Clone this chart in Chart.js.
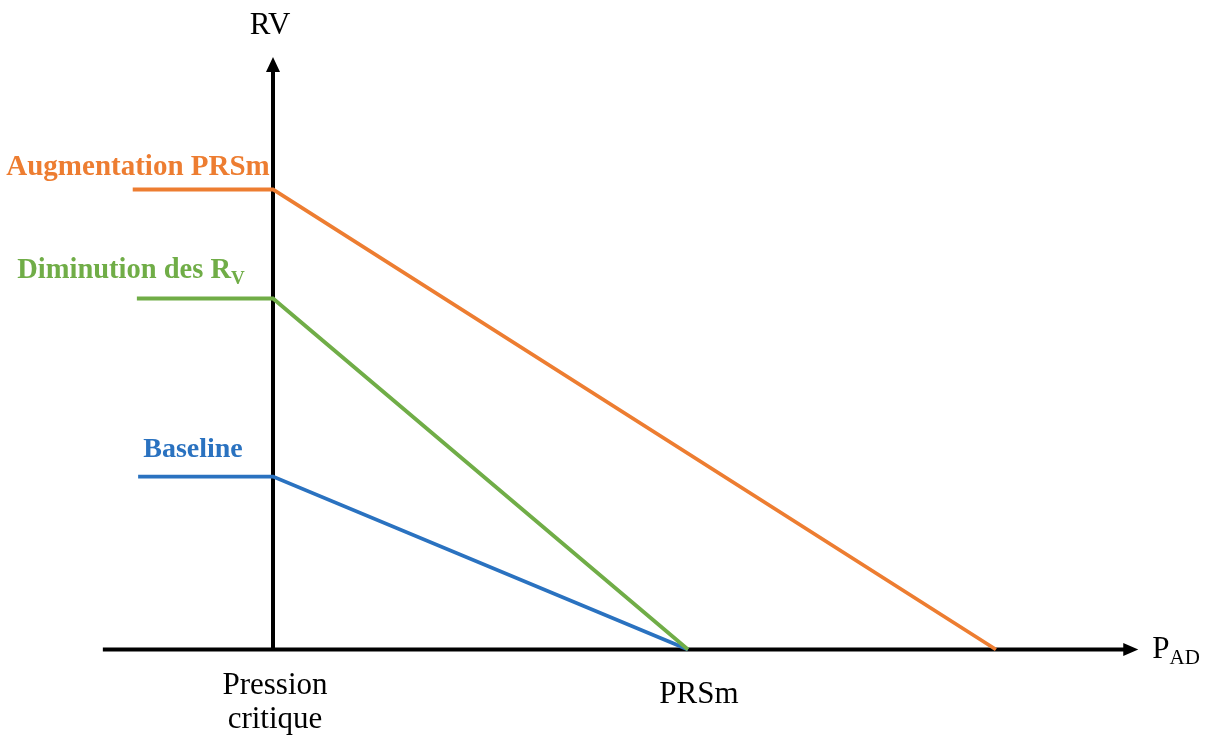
<!DOCTYPE html>
<html>
<head>
<meta charset="utf-8">
<script src="https://cdn.jsdelivr.net/npm/chart.js@4"></script>
<style>
  html, body { margin: 0; padding: 0; background: #fff; }
  #wrap { width: 1207px; height: 736px; }
</style>
</head>
<body>
<div id="wrap"><canvas id="graph1" width="1207" height="736"></canvas></div>
<script>
// courbes de retour veineux (unites arbitraires)
var seriesNames = ['Augmentation PRSm', 'Diminution des R', 'Baseline'];
var seriesColors = ['#ED7D31', '#70AD47', '#2A72C0'];
var plateauStart = [-3.38, -3.28, -3.25];   // debut du plateau a gauche
var plateauLevel = [10.0, 7.63, 3.76];      // RV max (plateau)
var pressionCritique = [0, 0, 0];           // fin du plateau
var prsmValue = [17.42, 10.0, 10.0];        // RV = 0 quand P_AD = PRSm

// axes
var xAxisFrom = -4.1, xAxisTo = 20.85;
var yAxisFrom = 0, yAxisTo = 12.88;

var serif = '"Liberation Serif", "Times New Roman", serif';

var datasets = [];
seriesNames.forEach(function (name, i) {
    datasets.push({
        label: name,
        data: [
            { x: plateauStart[i], y: plateauLevel[i] },
            { x: pressionCritique[i], y: plateauLevel[i] },
            { x: prsmValue[i], y: 0 }
        ],
        borderColor: seriesColors[i],
        backgroundColor: seriesColors[i],
        borderWidth: 3.8,
        showLine: true,
        pointRadius: 0,
        tension: 0
    });
});

function arrow(ctx, x, y, dir) {
    ctx.beginPath();
    if (dir === 'up') {
        ctx.moveTo(x, y);
        ctx.lineTo(x - 7, y + 15);
        ctx.lineTo(x + 7, y + 15);
    } else {
        ctx.moveTo(x, y);
        ctx.lineTo(x - 15, y - 6.5);
        ctx.lineTo(x - 15, y + 6.5);
    }
    ctx.closePath();
    ctx.fill();
}

function withSub(ctx, main, sub, x, y, size, bold, align) {
    var weight = bold ? 'bold ' : '';
    ctx.font = weight + size + 'px ' + serif;
    var w1 = ctx.measureText(main).width;
    ctx.font = weight + Math.round(size * 0.68) + 'px ' + serif;
    var w2 = ctx.measureText(sub).width;
    var left = align === 'center' ? x - (w1 + w2) / 2 : x;
    ctx.textAlign = 'left';
    ctx.textBaseline = 'alphabetic';
    ctx.font = weight + size + 'px ' + serif;
    ctx.fillText(main, left, y);
    ctx.font = weight + Math.round(size * 0.68) + 'px ' + serif;
    ctx.fillText(sub, left + w1, y + size * 0.22);
}

var axesPlugin = {
    id: 'axes',
    beforeDatasetsDraw: function (chart) {
        var ctx = chart.ctx, xs = chart.scales.x, ys = chart.scales.y;
        var x0 = xs.getPixelForValue(0), y0 = ys.getPixelForValue(0);
        ctx.save();
        ctx.strokeStyle = '#000';
        ctx.fillStyle = '#000';
        ctx.lineWidth = 4;
        ctx.beginPath();
        ctx.moveTo(xs.getPixelForValue(xAxisFrom), y0);
        ctx.lineTo(xs.getPixelForValue(xAxisTo) - 10, y0);
        ctx.moveTo(x0, ys.getPixelForValue(yAxisFrom) + 2);
        ctx.lineTo(x0, ys.getPixelForValue(yAxisTo) + 10);
        ctx.stroke();
        arrow(ctx, xs.getPixelForValue(xAxisTo), y0, 'right');
        arrow(ctx, x0, ys.getPixelForValue(yAxisTo), 'up');
        ctx.restore();
    },
    afterDraw: function (chart) {
        var ctx = chart.ctx, xs = chart.scales.x, ys = chart.scales.y;
        var x0 = xs.getPixelForValue(0), y0 = ys.getPixelForValue(0);
        ctx.save();
        ctx.fillStyle = '#000';
        ctx.textAlign = 'center';
        ctx.textBaseline = 'alphabetic';
        ctx.font = '31px ' + serif;
        ctx.fillText('RV', x0 - 3, 34);
        ctx.fillText('Pression', x0 + 2, y0 + 44);
        ctx.fillText('critique', x0 + 2, y0 + 78);
        ctx.fillText('PRSm', xs.getPixelForValue(prsmValue[1]) + 11, y0 + 53);
        withSub(ctx, 'P', 'AD', xs.getPixelForValue(xAxisTo) + 14, y0 + 8, 31, false, 'left');

        // noms des courbes
        ctx.fillStyle = seriesColors[0];
        ctx.textAlign = 'center';
        ctx.font = 'bold 29px ' + serif;
        ctx.fillText(seriesNames[0], 138, ys.getPixelForValue(plateauLevel[0]) - 15);
        ctx.fillStyle = seriesColors[1];
        withSub(ctx, seriesNames[1], 'V', 131, ys.getPixelForValue(plateauLevel[1]) - 21, 28.5, true, 'center');
        ctx.fillStyle = seriesColors[2];
        ctx.textAlign = 'center';
        ctx.font = 'bold 28px ' + serif;
        ctx.fillText(seriesNames[2], 193, ys.getPixelForValue(plateauLevel[2]) - 20);
        ctx.restore();
    }
};

var ctx = document.getElementById('graph1').getContext('2d');
var graph1 = new Chart(ctx, {
    type: 'scatter',
    data: { datasets: datasets },
    options: {
        responsive: false,
        animation: false,
        layout: { padding: 0 },
        plugins: { legend: { display: false }, tooltip: { enabled: false } },
        scales: {
            x: { type: 'linear', display: false, min: -273 / 41.5, max: (1207 - 273) / 41.5 },
            y: { type: 'linear', display: false, min: -(736 - 649.5) / 46, max: 649.5 / 46 }
        }
    },
    plugins: [axesPlugin]
});
</script>
</body>
</html>
